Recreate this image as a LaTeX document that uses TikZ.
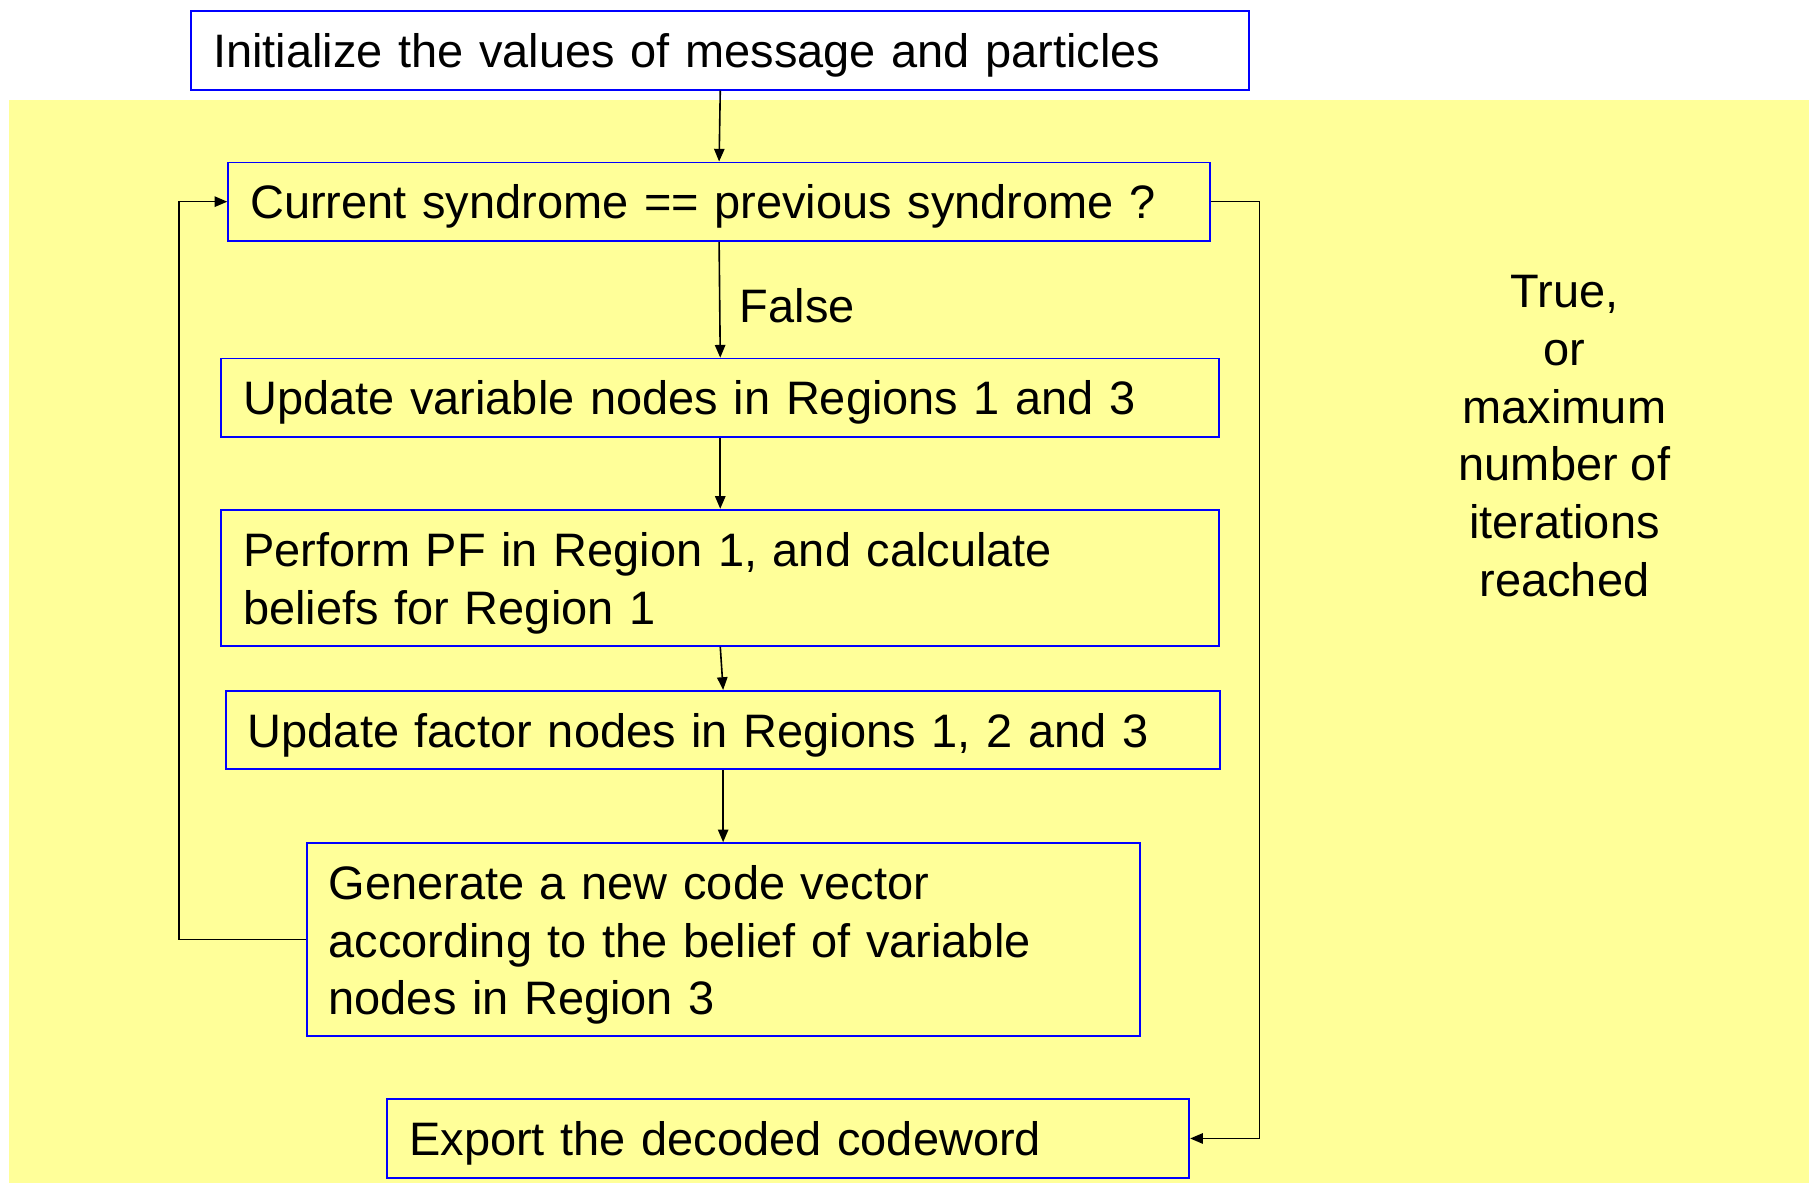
\documentclass[tikz,border=0pt]{standalone}
\usepackage{fontspec}
\setmainfont{Liberation Sans}
\usetikzlibrary{arrows.meta}
\definecolor{paleyellow}{HTML}{FFFF99}
\definecolor{boxblue}{HTML}{0000FF}
\begin{document}
\begin{tikzpicture}[x=1pt,y=-1pt,
  font=\fontsize{40.7}{50}\selectfont,
  flowbox/.style={draw=boxblue, line width=1.6pt, inner xsep=19pt, inner ysep=0pt,
    align=left, anchor=north west},
  oneline/.style={flowbox, text depth=0pt, minimum height=68pt},
  arr/.style={draw=black, line width=1.4pt, -{Triangle[length=11pt,width=9pt]}}]
  % canvas and shaded region
  \useasboundingbox (0,0) rectangle (1568,1025);
  \fill[white] (0,0) rectangle (1568,1025);
  \fill[paleyellow] (8,87) rectangle (1568,1025);

  % process boxes
  \node[oneline, fill=white, text width=879pt] (init) at (165,9)
    {Initialize the values of message and particles};
  \node[oneline, text width=813pt] (check) at (197,140)
    {Current syndrome == previous syndrome ?};
  \node[oneline, text width=827pt] (varup) at (191,310)
    {Update variable nodes in Regions 1 and 3};
  \node[flowbox, text width=827pt, minimum height=118pt, text depth=48.6pt] (pf) at (191,441)
    {Perform PF in Region 1, and calculate\\beliefs for Region 1};
  \node[oneline, text width=824pt] (facup) at (195,598)
    {Update factor nodes in Regions 1, 2 and 3};
  \node[flowbox, text width=684pt, minimum height=167pt, text depth=98.6pt] (gen) at (265,730)
    {Generate a new code vector\\according to the belief of variable\\nodes in Region 3};
  \node[oneline, text width=657pt] (export) at (335,952)
    {Export the decoded codeword};

  % labels
  \node (false) at (691,265) {False};
  \node[align=center] (exitcond) at (1356,378)
    {True,\\or\\maximum\\number of\\iterations\\reached};

  % connectors
  \draw[arr] (init.south) -- (check.north);
  \draw[arr] (check.south) -- (varup.north);
  \draw[arr] (varup.south) -- (pf.north);
  \draw[arr] (pf.south) -- (facup.north);
  \draw[arr] (facup.south) -- (gen.north);
  \draw[arr] (gen.west) -- ++(-110,0) |- (check.west);
  \draw[arr] (check.east) -- ++(42,0) |- (export.east);
\end{tikzpicture}
\end{document}
